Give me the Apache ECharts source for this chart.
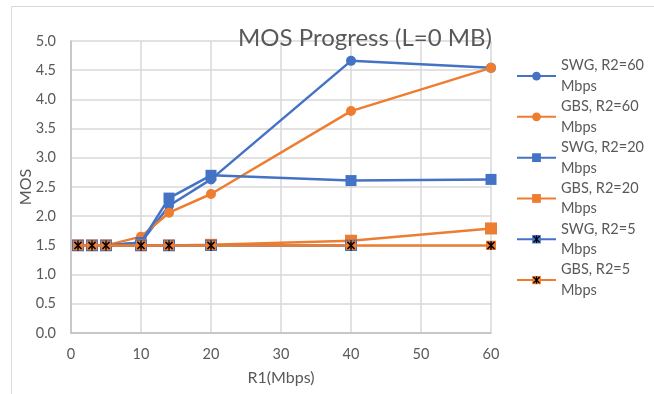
<!DOCTYPE html>
<html><head><meta charset="utf-8">
<script src="https://cdn.jsdelivr.net/npm/echarts@6/dist/echarts.min.js"></script>
<style>html,body{margin:0;padding:0;background:#fff}#c{width:654px;height:394px}</style>
</head><body><div id="c"></div>
<script>
const xValues = [1, 3, 5, 10, 14, 20, 40, 60];
const swg60 = [1.5, 1.5, 1.5, 1.55, 2.18, 2.63, 4.66, 4.54];
const gbs60 = [1.5, 1.5, 1.5, 1.65, 2.06, 2.38, 3.80, 4.54];
const swg20 = [1.5, 1.5, 1.5, 1.55, 2.31, 2.70, 2.61, 2.63];
const gbs20 = [1.5, 1.5, 1.5, 1.5, 1.5, 1.51, 1.58, 1.79];
const swg5 = [1.5, 1.5, 1.5, 1.5, 1.5, 1.5, 1.5];
const gbs5 = [1.5, 1.5, 1.5, 1.5, 1.5, 1.5, 1.5, 1.5];
const seriesNames = ['SWG, R2=60 Mbps', 'GBS, R2=60 Mbps', 'SWG, R2=20 Mbps', 'GBS, R2=20 Mbps', 'SWG, R2=5 Mbps', 'GBS, R2=5 Mbps'];
const yTicks = [0, 0.5, 1, 1.5, 2, 2.5, 3, 3.5, 4, 4.5, 5];

const BLUE = '#4472C4', ORANGE = '#ED7D31';
const FONT = 'Lato';
function starIcon(bg) {
  const svg = '<svg xmlns="http://www.w3.org/2000/svg" width="20" height="20" viewBox="0 0 20 20">' +
    '<rect x="0" y="0" width="20" height="20" fill="' + bg + '"/>' +
    '<g stroke="#000" stroke-width="3" stroke-linecap="square">' +
    '<line x1="4" y1="4" x2="16" y2="16"/><line x1="16" y1="4" x2="4" y2="16"/>' +
    '<line x1="10" y1="3" x2="10" y2="17"/></g></svg>';
  return 'image://data:image/svg+xml;charset=utf-8,' + encodeURIComponent(svg);
}
function pairs(vals) { return vals.map((v, i) => [xValues[i], v]); }

const defs = [
  { data: swg60, color: BLUE, symbol: 'circle', size: 10 },
  { data: gbs60, color: ORANGE, symbol: 'circle', size: 10 },
  { data: swg20, color: BLUE, symbol: 'rect', size: 11 },
  { data: gbs20, color: ORANGE, symbol: 'rect', size: 12 },
  { data: swg5, color: BLUE, symbol: starIcon(BLUE), size: 12 },
  { data: gbs5, color: ORANGE, symbol: starIcon(ORANGE), size: 10 }
];

const series = defs.map((d, i) => ({
  name: seriesNames[i],
  type: 'line',
  data: pairs(d.data),
  symbol: d.symbol,
  symbolSize: d.size,
  showAllSymbol: true,
  color: d.color,
  lineStyle: { color: d.color, width: 2.5 },
  itemStyle: { color: d.color },
  z: 2 + i,
  animation: false
}));

const legends = seriesNames.map((n, i) => ({
  data: [n],
  orient: 'vertical',
  left: 516,
  top: 45 + i * 40.8,
  padding: 0,
  itemWidth: 39,
  itemHeight: 11,
  itemGap: 0,
  formatter: s => s.replace(' Mbps', '\nMbps'),
  textStyle: { fontFamily: FONT, fontSize: 14.5, color: '#595959', lineHeight: 20.7, padding: [20.7, 0, 0, 0] },
  selectedMode: false
}));

const chart = echarts.init(document.getElementById('c'), null, { renderer: 'canvas' });
chart.setOption({
  animation: false,
  backgroundColor: '#fff',
  title: {
    text: 'MOS Progress (L=0 MB)',
    left: 360, textAlign: 'center', top: 21,
    textStyle: { fontFamily: FONT, fontSize: 24, fontWeight: 'normal', color: '#595959' }
  },
  graphic: [{ type: 'rect', shape: { x: 11.5, y: 6.5, width: 700, height: 500 }, style: { fill: 'none', stroke: '#d9d9d9', lineWidth: 1 }, silent: true, z: -10 }],
  legend: legends,
  grid: { left: 71, right: 163, top: 41, bottom: 61, containLabel: false },
  xAxis: {
    type: 'value', min: 0, max: 60, interval: 10,
    name: 'R1(Mbps)', nameLocation: 'middle', nameGap: 37,
    nameTextStyle: { fontFamily: FONT, fontSize: 16, color: '#595959' },
    axisLine: { lineStyle: { color: '#bfbfbf', width: 1.5 } },
    axisTick: { show: false },
    axisLabel: { fontFamily: FONT, fontSize: 14.5, color: '#595959', margin: 14 },
    splitLine: { show: true, lineStyle: { color: '#d9d9d9', width: 1.5 } }
  },
  yAxis: {
    type: 'value', min: 0, max: 5, interval: 0.5,
    name: 'MOS', nameLocation: 'middle', nameGap: 37, nameMoveOverlap: false,
    nameTextStyle: { fontFamily: FONT, fontSize: 16, color: '#595959' },
    axisLine: { show: true, lineStyle: { color: '#bfbfbf', width: 1.5 } },
    axisTick: { show: false },
    axisLabel: { fontFamily: FONT, fontSize: 14.5, color: '#595959', margin: 15,
      formatter: v => (yTicks.indexOf(v) >= 0 ? v.toFixed(1) : '') },
    splitLine: { show: true, lineStyle: { color: '#d9d9d9', width: 1.5 } }
  },
  series: series
});
</script></body></html>
